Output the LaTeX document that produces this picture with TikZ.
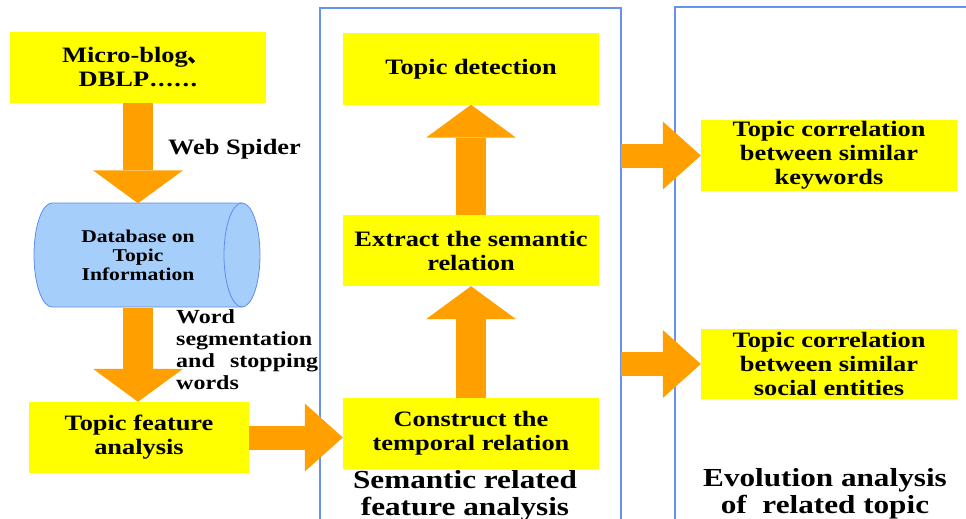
\documentclass[tikz,border=0pt]{standalone}
\usepackage{fontspec}
\setmainfont{Liberation Serif}[FakeStretch=1.2]
\newfontfamily\cjk{Noto Sans CJK SC}
\usetikzlibrary{arrows.meta}
\definecolor{boxyellow}{RGB}{255,255,0}
\definecolor{flow}{RGB}{255,160,0}
\definecolor{frameblue}{RGB}{105,145,240}
\definecolor{dbfill}{RGB}{166,206,250}
\definecolor{dbline}{RGB}{95,140,235}
\newcommand\dotrun{\kern1pt.\kern1.5pt.\kern1.5pt.\kern1.5pt.\kern1.5pt.\kern1.5pt.}
\begin{document}
\begin{tikzpicture}[x=1pt,y=-1pt,
  stepbox/.style={fill=boxyellow, minimum width=256pt, minimum height=71pt,
    inner sep=0pt, align=center, font=\bfseries\fontsize{22}{24}\selectfont},
  fat/.style={draw=flow, line width=30pt,
    -{Triangle[width=90pt,length=33pt,line width=0pt]}},
  mid/.style={draw=flow, line width=24pt,
    -{Triangle[width=68pt,length=38pt,line width=0pt]}},
  panel/.style={draw=frameblue, line width=1.3pt},
  lbl/.style={inner sep=0pt, font=\bfseries\fontsize{22}{24}\selectfont},
  caption/.style={inner sep=0pt, align=center, font=\bfseries\fontsize{26}{27}\selectfont}]

\useasboundingbox (0,0) rectangle (966,519);
\clip (0,0) rectangle (966,519);

% column frames
\draw[panel] (320,530) -- (320,8) -- (621,8) -- (621,530);
\draw[panel] (675,530) -- (675,7) -- (975,7);
\coordinate (p1e) at (621,0);

% first column
\node[stepbox] (src) at (138,67.5) {\hspace*{-4pt}Micro-blog{\cjk 、}\\DBLP\dotrun};

% database cylinder
\filldraw[fill=dbfill, draw=dbline, line width=0.8pt]
  (52,203) -- (242,203)
  .. controls (251.9,203) and (260,226.3) .. (260,255)
  .. controls (260,283.7) and (251.9,307) .. (242,307)
  -- (52,307)
  .. controls (42.1,307) and (34,283.7) .. (34,255)
  .. controls (34,226.3) and (42.1,203) .. cycle;
\draw[dbline, line width=0.8pt]
  (242,203) .. controls (232.1,203) and (224,226.3) .. (224,255)
  .. controls (224,283.7) and (232.1,307) .. (242,307);
\node[inner sep=0pt, minimum width=208pt, minimum height=104pt, align=center,
  font=\bfseries\fontsize{18}{19}\selectfont] (db) at (138,255.5)
  {Database on\\Topic\\Information};

\node[stepbox, minimum width=220pt] (tfa) at (139,437.5) {Topic feature\\analysis};

\node[lbl, anchor=west] (spider) at (168,149) {Web Spider};
\node[inner sep=0pt, anchor=north west, text width=142pt, align=left,
  font=\bfseries\fontsize{20}{22.3}\selectfont] (seg) at (176,309)
  {Word\\segmentation\\and\hfill stopping\\words};

% second column
\node[stepbox] (td) at (471,69) {Topic detection};
\node[stepbox] (ext) at (471,250.5) {Extract the semantic\\relation};
\node[stepbox] (ctr) at (471,433.5) {Construct the\\temporal relation};
\node[caption] (semcap) at (465,495.5) {Semantic related\\feature analysis};

% third column
\node[stepbox] (kw) at (829,155.5) {Topic correlation\\between similar\\keywords};
\node[stepbox, minimum height=70pt] (se) at (829,364) {Topic correlation\\between similar\\social entities};
\node[caption] (evocap) at (825,494) {Evolution analysis\\of\ \ related topic};

% flow arrows
\draw[fat] (src.south -| db.north) -- (db.north);
\draw[fat] (db.south) -- (db.south |- tfa.north);
\draw[mid] (tfa.east) -- (tfa.east -| ctr.west);
\draw[fat] (ctr.north) -- (ext.south);
\draw[fat] (ext.north) -- (td.south);
\draw[mid] (p1e |- kw.west) -- (kw.west);
\draw[mid] (p1e |- se.west) -- (se.west);
\end{tikzpicture}
\end{document}
